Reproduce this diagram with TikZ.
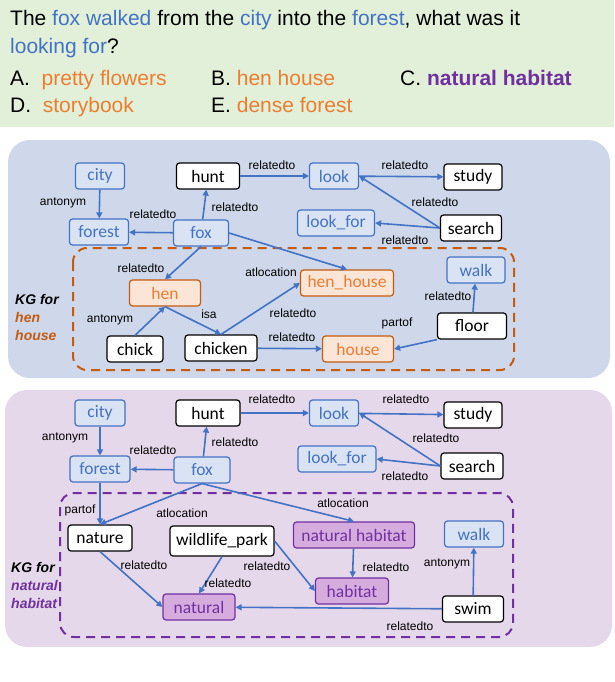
\documentclass[tikz,border=0pt]{standalone}
\usepackage{fontspec}
\setmainfont{Liberation Sans}
\newfontfamily\carl{Carlito}
\usetikzlibrary{arrows.meta}
\definecolor{eb}{HTML}{4472C4}
\definecolor{fb}{HTML}{DAE3F3}
\definecolor{oo}{HTML}{C55A11}
\definecolor{ot}{HTML}{ED7D31}
\definecolor{fo}{HTML}{FBE5D6}
\definecolor{pp}{HTML}{7030A0}
\definecolor{fp}{HTML}{D6ACDF}
\definecolor{pb}{HTML}{CED8EA}
\definecolor{pu}{HTML}{E6D8EB}
\definecolor{gr}{HTML}{E2F0D9}
\begin{document}
\begin{tikzpicture}[x=1pt,y=-1pt,
 nd/.style={draw,rounded corners=3pt,line width=1.2pt,minimum height=26pt,inner sep=1pt,font=\carl\fontsize{17.5}{17.5}\selectfont},
 nb/.style={nd,draw=eb,fill=fb,text=eb},
 nk/.style={nd,draw=black,fill=white,text=black},
 no/.style={nd,draw=oo,fill=fo,text=ot},
 np/.style={nd,draw=pp,fill=fp,text=pp},
 e/.style={draw=eb,line width=1.6pt,-{Triangle[length=6pt,width=6pt]}},
 lb/.style={font=\fontsize{12}{12}\selectfont,inner sep=0pt},
 q/.style={anchor=base west,inner sep=0pt,font=\fontsize{21}{21}\selectfont}]
\useasboundingbox (0,0) rectangle (614,682);
\fill[white] (0,0) rectangle (614,682);
\fill[gr] (0,0) rectangle (614,127);
\node[q] (q1) at (10,26) {The \textcolor{eb}{fox walked} from the \textcolor{eb}{city} into the \textcolor{eb}{forest}, what was it};
\node[q] (q2) at (10,54) {\textcolor{eb}{looking for}?};
\node[q] (a) at (10,86) {A.\ \ \textcolor{ot}{pretty flowers}};
\node[q] (b) at (211,86) {B. \textcolor{ot}{hen house}};
\node[q] (c) at (400,86) {C. \textcolor{pp}{\bfseries natural habitat}};
\node[q] (d) at (10,113) {D.\ \ \textcolor{ot}{storybook}};
\node[q] (ee) at (211,113) {E. \textcolor{ot}{dense forest}};
% panel 1
\fill[pb,rounded corners=22pt] (8,140) rectangle (610,378);
\draw[oo,line width=2pt,dash pattern=on 9pt off 6pt,rounded corners=14pt] (73,248) rectangle (514,370);
\node[nb,minimum width=49pt] (city) at (100,176) {city};
\node[nb,minimum width=59pt] (forest) at (99,232) {forest};
\node[nk,minimum width=63pt] (hunt) at (208,176) {hunt};
\node[nb,minimum width=55pt] (fox) at (201,233) {fox};
\node[nb,minimum width=49pt] (look) at (334,176) {look};
\node[nk,minimum width=58pt] (study) at (473,177) {study};
\node[nb,minimum width=77pt] (lookfor) at (336,223) {look\_for};
\node[nk,minimum width=61pt] (search) at (471,228) {search};
\node[no,minimum width=71pt] (hen) at (165,293) {hen};
\node[no,minimum width=93pt] (henh) at (347,283) {hen\_house};
\node[nb,minimum width=58pt] (walk) at (476,270) {walk};
\node[nk,minimum width=56pt] (chick) at (135,349) {chick};
\node[nk,minimum width=72pt] (chicken) at (221,348) {chicken};
\node[no,minimum width=71pt] (house) at (358,349) {house};
\node[nk,minimum width=69pt] (floor) at (472,326) {floor};
\draw[e] (city) -- (forest);
\draw[e] (fox) -- (forest);
\draw[e] (fox) -- (hunt);
\draw[e] (hunt) -- (look);
\draw[e] (look) -- (study);
\draw[e] (search.west) -- (look.east);
\draw[e] (search.west) -- (lookfor.east);
\draw[e] (fox.south) -- (hen.north);
\draw[e] (fox.east) -- (henh.north);
\draw[e] (chick.north) -- (hen.south);
\draw[e] (hen.south) -- (chicken.north);
\draw[e] (chicken.north) -- (henh.west);
\draw[e] (chicken) -- (house);
\draw[e] (floor.south west) -- (house.east);
\draw[e] (floor) -- (walk);
\node[lb] (l1) at (63,203) {antonym};
\node[lb] (l2) at (153,214) {relatedto};
\node[lb] (l3) at (235,207) {relatedto};
\node[lb] (l4) at (272,165) {relatedto};
\node[lb] (l5) at (405,165) {relatedto};
\node[lb] (l6) at (435,202) {relatedto};
\node[lb] (l7) at (405,240) {relatedto};
\node[lb] (l8) at (141,268) {relatedto};
\node[lb] (l9) at (271,272) {atlocation};
\node[lb] (l10) at (209,314) {isa};
\node[lb] (l11) at (110,320) {antonym};
\node[lb] (l12) at (293,313) {relatedto};
\node[lb] (l13) at (292,337) {relatedto};
\node[lb] (l14) at (397,323) {partof};
\node[lb] (l15) at (448,296) {relatedto};
\node[anchor=west,align=left,inner sep=0pt,font=\bfseries\itshape\fontsize{14}{18}\selectfont] (k1) at (15,317) {KG for\\\textcolor{oo}{hen}\\\textcolor{oo}{house}};
% panel 2
\fill[pu,rounded corners=22pt] (5,390) rectangle (612,647);
\draw[pp,line width=2pt,dash pattern=on 9pt off 6pt,rounded corners=14pt] (60,493) rectangle (513,637);
\node[nb,minimum width=50pt] (city2) at (100,413) {city};
\node[nk,minimum width=64pt] (hunt2) at (208,413) {hunt};
\node[nb,minimum width=49pt] (look2) at (334,413) {look};
\node[nk,minimum width=58pt] (study2) at (473,415) {study};
\node[nb,minimum width=60pt] (forest2) at (100,469) {forest};
\node[nb,minimum width=56pt] (fox2) at (202,470) {fox};
\node[nb,minimum width=78pt] (lookfor2) at (337,459) {look\_for};
\node[nk,minimum width=62pt] (search2) at (472,466) {search};
\node[nk,minimum width=64pt] (nature) at (100,538) {nature};
\node[nk,minimum width=104pt,minimum height=30pt] (wp) at (222,541) {wildlife\_park};
\node[np,minimum width=121pt] (nh) at (354,535) {natural habitat};
\node[nb,minimum width=59pt] (walk2) at (474,534) {walk};
\node[np,minimum width=73pt] (habitat) at (352,591) {habitat};
\node[np,minimum width=72pt] (natural) at (199,607) {natural};
\node[nk,minimum width=61pt] (swim) at (473,609) {swim};
\draw[e] (city2) -- (forest2);
\draw[e] (fox2) -- (forest2);
\draw[e] (fox2) -- (hunt2);
\draw[e] (hunt2) -- (look2);
\draw[e] (look2) -- (study2);
\draw[e] (search2.west) -- (look2.east);
\draw[e] (search2.west) -- (lookfor2.east);
\draw[e] (forest2) -- (nature);
\draw[e] (fox2.south) -- (nature.north);
\draw[e] (fox2.south) -- (nh.north);
\draw[e] (nature.south) -- (natural.west);
\draw[e] (wp.south) -- (natural.north);
\draw[e] (wp.east) -- (habitat.west);
\draw[e] (nh) -- (habitat);
\draw[e] (swim) -- (walk2);
\draw[e] (swim) -- (natural);
\node[lb] (m1) at (65,438) {antonym};
\node[lb] (m2) at (153,450) {relatedto};
\node[lb] (m3) at (235,442) {relatedto};
\node[lb] (m4) at (272,399) {relatedto};
\node[lb] (m5) at (406,399) {relatedto};
\node[lb] (m6) at (436,438) {relatedto};
\node[lb] (m7) at (405,476) {relatedto};
\node[lb] (m8) at (80,510) {partof};
\node[lb] (m9) at (182,513) {atlocation};
\node[lb] (m10) at (343,503) {atlocation};
\node[lb] (m11) at (144,565) {relatedto};
\node[lb] (m12) at (228,583) {relatedto};
\node[lb] (m13) at (267,566) {relatedto};
\node[lb] (m14) at (386,567) {relatedto};
\node[lb] (m15) at (447,564) {antonym};
\node[lb] (m16) at (410,626) {relatedto};
\node[anchor=west,align=left,inner sep=0pt,font=\bfseries\itshape\fontsize{14}{18}\selectfont] (k2) at (11,585) {KG for\\\textcolor{pp}{natural}\\\textcolor{pp}{habitat}};
\end{tikzpicture}
\end{document}
